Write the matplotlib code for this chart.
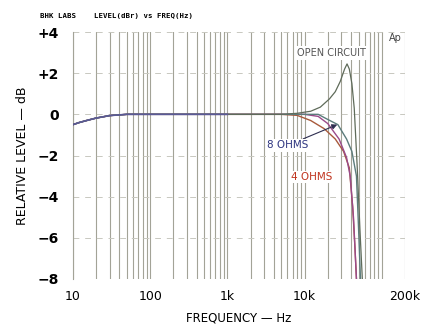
import numpy as np
import matplotlib
matplotlib.use("Agg")
import matplotlib.pyplot as plt

# ---- data ----
freq_open = [10, 12, 15, 20, 30, 50, 100, 1000, 5000, 8000, 12000, 16000, 21000, 25000, 29000, 33000, 35500, 38000, 41000, 44000, 48000, 52000, 56000]
db_open = [-0.5, -0.4, -0.3, -0.18, -0.06, 0.0, 0.0, 0.0, 0.0, 0.05, 0.15, 0.35, 0.75, 1.1, 1.6, 2.2, 2.45, 2.2, 1.5, 0.3, -2.5, -5.5, -8.0]

freq_8 = [10, 12, 15, 20, 30, 50, 100, 1000, 5000, 10000, 15000, 20000, 27000, 35000, 41000, 47000, 50000, 53000]
db_8 = [-0.5, -0.4, -0.3, -0.18, -0.06, 0.0, 0.0, 0.0, 0.0, 0.0, 0.0, -0.25, -0.5, -1.2, -1.8, -3.0, -5.5, -8.0]

freq_8b = [10, 12, 15, 20, 30, 50, 100, 1000, 5000, 10000, 15000, 20000, 28000, 35000, 39000, 43000, 47000]
db_8b = [-0.5, -0.4, -0.3, -0.18, -0.06, 0.0, 0.0, 0.0, 0.0, 0.0, -0.1, -0.45, -1.2, -2.1, -3.0, -5.0, -8.0]

freq_4 = [10, 12, 15, 20, 30, 50, 100, 1000, 5000, 8000, 12000, 18000, 25000, 32000, 38000, 42000, 45000, 47000]
db_4 = [-0.5, -0.4, -0.3, -0.18, -0.06, 0.0, 0.0, 0.0, 0.0, -0.05, -0.3, -0.7, -1.2, -1.8, -2.6, -4.5, -6.5, -8.0]

y_ticks = [4, 2, 0, -2, -4, -6, -8]
y_labels = ["+4", "+2", "0", "\u22122", "\u22124", "\u22126", "\u22128"]
x_ticks = [10, 100, 1000, 10000, 200000]
x_labels = ["10", "100", "1k", "10k", "200k"]

fig = plt.figure(figsize=(4.23, 3.29), dpi=100)
ax = fig.add_axes([73/423, 1-279/329, (405-73)/423, (279-32)/329])
ax.set_xscale("log")
ax.set_xlim(10, 200000)
ax.set_ylim(-8, 4)

# grid: vertical log lines, dashed horizontal lines
minor = []
for dec in [10, 100, 1000, 10000, 100000]:
    for m in range(1, 10):
        v = dec * m
        if v <= 200000:
            minor.append(v)
for v in minor:
    ax.axvline(v, color="#a3a397", lw=0.8, zorder=1)
for yv in y_ticks:
    ax.axhline(yv, color="#c8c8c0", lw=0.7, ls=(0, (6, 6)), zorder=1)

for s in ["top", "right"]:
    ax.spines[s].set_visible(False)
ax.spines["left"].set_color("#a3a397")
ax.spines["bottom"].set_visible(False)

ax.plot(freq_4, db_4, color="#a85a3c", lw=1.0, zorder=3)
ax.plot(freq_8b, db_8b, color="#9a4a8a", lw=1.0, zorder=3)
ax.plot(freq_8, db_8, color="#5c7c7c", lw=1.0, zorder=3)
ax.plot(freq_open, db_open, color="#5f6b5a", lw=0.9, zorder=4)
# common flat section (bluish)
ax.plot(freq_open[:8], db_open[:8], color="#5a5a96", lw=1.2, zorder=5)

ax.set_yticks(y_ticks)
ax.set_yticklabels(y_labels, fontsize=10, fontweight="bold")
ax.set_xticks(x_ticks)
ax.set_xticklabels(x_labels, fontsize=9)
ax.minorticks_off()
ax.tick_params(axis="both", length=0, pad=10)
ax.tick_params(axis="x", pad=8)

ax.set_ylabel("RELATIVE LEVEL \u2014 dB", fontsize=9, labelpad=6)
ax.set_xlabel("FREQUENCY \u2014 Hz", fontsize=8.5, labelpad=6)

fig.text(40/423, 1-16/329, "BHK LABS    LEVEL(dBr) vs FREQ(Hz)", fontsize=5.3, fontweight="bold",
         family="DejaVu Sans Mono", va="center", ha="left")
ax.text(125000, 3.7, "Ap", fontsize=7, color="#444444", va="center", ha="left")

ax.text(22000, 3.0, "OPEN CIRCUIT", fontsize=7, color="#555555", ha="center", va="center",
        bbox=dict(facecolor="white", edgecolor="none", pad=1.5), zorder=6)
ax.annotate("8 OHMS", xy=(26500, -0.5), xytext=(6100, -1.5), fontsize=7.5, color="#2e3580",
            ha="center", va="center", zorder=6,
            bbox=dict(facecolor="white", edgecolor="none", pad=1),
            arrowprops=dict(arrowstyle="-|>", color="#2e2e50", lw=0.8, shrinkA=0, shrinkB=0))
ax.text(12500, -3.05, "4 OHMS", fontsize=7.5, color="#c0341e", ha="center", va="center",
        bbox=dict(facecolor="white", edgecolor="none", pad=1), zorder=6)

fig.savefig("out.png", dpi=100)
